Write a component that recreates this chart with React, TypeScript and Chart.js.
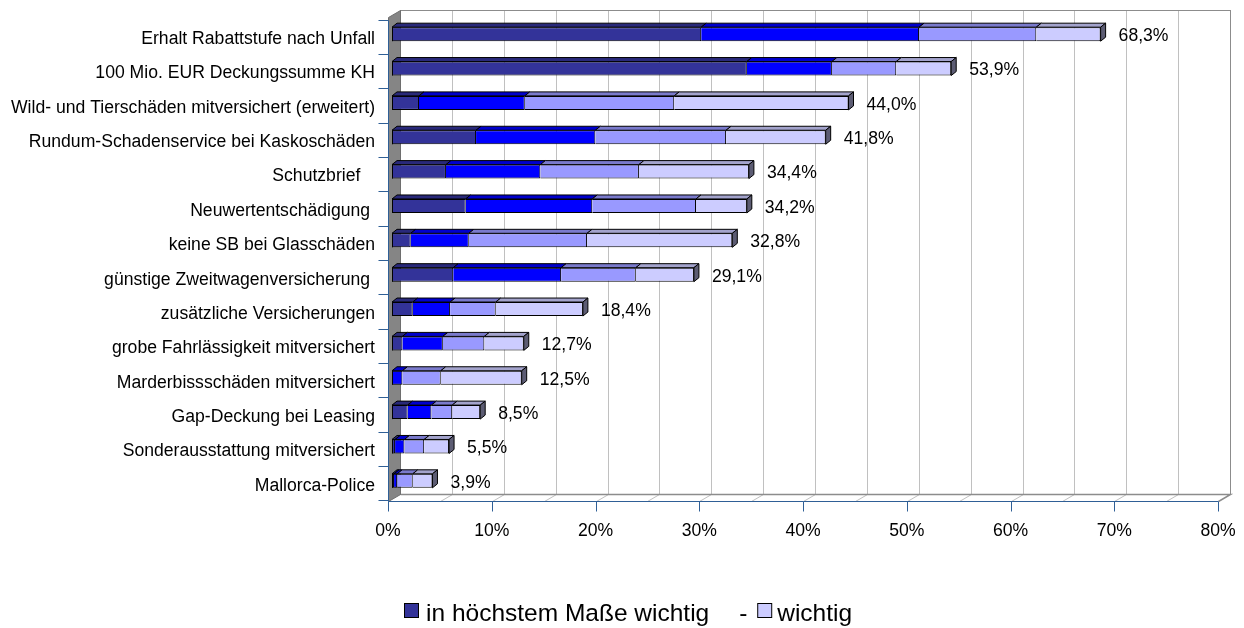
import React, { useEffect, useRef } from 'react';
import { Chart, registerables } from 'chart.js';

Chart.register(...registerables);

// ---- data ----
const categories = [
  'Erhalt Rabattstufe nach Unfall',
  '100 Mio. EUR Deckungssumme KH',
  'Wild- und Tierschäden mitversichert (erweitert)',
  'Rundum-Schadenservice bei Kaskoschäden',
  'Schutzbrief   ',
  'Neuwertentschädigung ',
  'keine SB bei Glasschäden',
  'günstige Zweitwagenversicherung ',
  'zusätzliche Versicherungen',
  'grobe Fahrlässigkeit mitversichert',
  'Marderbissschäden mitversichert',
  'Gap-Deckung bei Leasing',
  'Sonderausstattung mitversichert',
  'Mallorca-Police',
];

const seriesNames = ['in höchstem Maße wichtig', 'sehr wichtig', 'eher wichtig', 'wichtig'];

const highestImportance = [29.8, 34.2, 2.6, 8.1, 5.2, 7.1, 1.8, 5.9, 2.0, 1.0, 0, 1.5, 0.3, 0.2];
const veryImportant = [21.0, 8.2, 10.2, 11.5, 9.1, 12.2, 5.6, 10.4, 3.6, 3.9, 1.0, 2.3, 0.9, 0.3];
const ratherImportant = [11.3, 6.2, 14.4, 12.6, 9.5, 10.0, 11.4, 7.2, 4.4, 4.0, 3.7, 2.0, 1.9, 1.5];
const important = [6.2, 5.3, 16.8, 9.6, 10.6, 4.9, 14.0, 5.6, 8.4, 3.8, 7.8, 2.7, 2.4, 1.9];
const totals = [68.3, 53.9, 44.0, 41.8, 34.4, 34.2, 32.8, 29.1, 18.4, 12.7, 12.5, 8.5, 5.5, 3.9];

const xMax = 80;
const xTickStep = 10;
const xGridStep = 5;
const legendSeparator = '-';

const colors = ['#333399', '#0000FF', '#9999FF', '#CCCCFF'];

// ---- style ----
const FONT_FAMILY = '"Liberation Sans", Arial, sans-serif';
const LABEL_SIZE = 17.6;
const LEGEND_SIZE = 24.5;
const AXIS_BLUE = '#2F5F96';
const FRONT_DX = -4;
const FRONT_DY = 2.5;
const BACK_DX = 8;
const BACK_DY = -4.5;
const BAR_DX = 5;
const BAR_DY = 4;

function shade(hex: string, f: number) {
  const n = parseInt(hex.slice(1), 16);
  const r = Math.round(((n >> 16) & 255) * f);
  const g = Math.round(((n >> 8) & 255) * f);
  const b = Math.round((n & 255) * f);
  return `rgb(${r},${g},${b})`;
}

const frame3d = {
  id: 'frame3d',
  beforeDatasetsDraw(chart: any) {
    const { ctx, chartArea: ca, scales } = chart;
    const xs = scales.x;
    const X = (v: number) => xs.getPixelForValue(v);
    const fL = Math.round(X(0) + FRONT_DX) + 0.5;
    const fR = Math.round(X(xMax) + FRONT_DX) + 0.5;
    const bL = Math.round(X(0) + BACK_DX) + 0.5;
    const bR = Math.round(X(xMax) + BACK_DX) + 0.5;
    const fB = Math.round(ca.bottom + FRONT_DY) + 0.5;
    const bB = Math.round(ca.bottom + BACK_DY) + 0.5;
    const fT = Math.round(ca.top) + 0.5;
    const bT = Math.round(ca.top - 7) + 0.5;

    ctx.save();
    // back wall
    ctx.fillStyle = '#ffffff';
    ctx.fillRect(bL, bT, bR - bL, bB - bT);
    // floor
    ctx.beginPath();
    ctx.moveTo(fL, fB);
    ctx.lineTo(bL, bB);
    ctx.lineTo(bR, bB);
    ctx.lineTo(fR, fB);
    ctx.closePath();
    ctx.fill();

    // grid lines
    ctx.strokeStyle = '#C0C0C0';
    ctx.lineWidth = 1;
    for (let v = xGridStep; v < xMax; v += xGridStep) {
      const bx = Math.round(X(v) + BACK_DX) + 0.5;
      const fx = Math.round(X(v) + FRONT_DX) + 0.5;
      ctx.beginPath();
      ctx.moveTo(bx, bT);
      ctx.lineTo(bx, bB);
      ctx.lineTo(fx, fB);
      ctx.stroke();
    }

    // back wall border
    ctx.strokeStyle = '#8C8C8C';
    ctx.strokeRect(bL, bT, bR - bL, bB - bT);
    ctx.lineWidth = 1.5;
    ctx.beginPath();
    ctx.moveTo(bL, bB);
    ctx.lineTo(bR, bB);
    ctx.lineTo(fR, fB);
    ctx.stroke();
    ctx.lineWidth = 1;

    // left wall
    ctx.fillStyle = '#858585';
    ctx.beginPath();
    ctx.moveTo(fL, fT);
    ctx.lineTo(bL, bT);
    ctx.lineTo(bL, bB);
    ctx.lineTo(fL, fB);
    ctx.closePath();
    ctx.fill();
    ctx.strokeStyle = '#6E6E6E';
    ctx.stroke();

    // axes
    ctx.strokeStyle = AXIS_BLUE;
    ctx.lineWidth = 1;
    ctx.beginPath();
    ctx.moveTo(fL, fB);
    ctx.lineTo(fR, fB);
    for (let v = 0; v <= xMax; v += xTickStep) {
      const fx = Math.round(X(v) + FRONT_DX) + 0.5;
      ctx.moveTo(fx, fB);
      ctx.lineTo(fx, fB + 10);
    }
    const n = categories.length;
    const band = (ca.bottom - ca.top) / n;
    const axTop = Math.round(ca.top + FRONT_DY) + 0.5;
    ctx.moveTo(fL, axTop);
    ctx.lineTo(fL, fB);
    for (let k = 0; k <= n; k++) {
      const y = Math.round(ca.top + k * band + FRONT_DY) + 0.5;
      ctx.moveTo(fL - 10, y);
      ctx.lineTo(fL, y);
    }
    ctx.stroke();
    ctx.restore();
  },
  afterDatasetsDraw(chart: any) {
    const { ctx } = chart;
    const nSets = chart.data.datasets.length;
    ctx.save();
    ctx.lineWidth = 1;
    ctx.strokeStyle = '#000';
    ctx.lineJoin = 'miter';
    for (let j = 0; j < categories.length; j++) {
      let lastEl: any = null;
      let firstEl: any = null;
      for (let i = 0; i < nSets; i++) {
        const el = chart.getDatasetMeta(i).data[j];
        if (!el) continue;
        const p = el.getProps(['x', 'y', 'base', 'height'], true);
        if (!firstEl) firstEl = p;
        if (Math.abs(p.x - p.base) < 0.01) continue;
        const top = p.y - p.height / 2;
        ctx.fillStyle = shade(colors[i], 0.8);
        ctx.beginPath();
        ctx.moveTo(p.base, top);
        ctx.lineTo(p.x, top);
        ctx.lineTo(p.x + BAR_DX, top - BAR_DY);
        ctx.lineTo(p.base + BAR_DX, top - BAR_DY);
        ctx.closePath();
        ctx.fill();
        ctx.stroke();
        lastEl = { p, i };
      }
      if (lastEl) {
        const p = lastEl.p;
        const top = p.y - p.height / 2;
        const bot = p.y + p.height / 2;
        ctx.fillStyle = shade(colors[lastEl.i], 0.45);
        ctx.beginPath();
        ctx.moveTo(p.x, top);
        ctx.lineTo(p.x + BAR_DX, top - BAR_DY);
        ctx.lineTo(p.x + BAR_DX, bot - BAR_DY);
        ctx.lineTo(p.x, bot);
        ctx.closePath();
        ctx.fill();
        ctx.stroke();
        // data label
        ctx.fillStyle = '#000';
        ctx.font = `${LABEL_SIZE}px ${FONT_FAMILY}`;
        ctx.textAlign = 'left';
        ctx.textBaseline = 'middle';
        const txt = totals[j].toFixed(1).replace('.', ',') + '%';
        ctx.fillText(txt, p.x + 18, p.y + 2);
      }
      if (firstEl) {
        const top = firstEl.y - firstEl.height / 2;
        const bot = firstEl.y + firstEl.height / 2;
        ctx.beginPath();
        ctx.moveTo(firstEl.base + 0.5, top);
        ctx.lineTo(firstEl.base + 0.5, bot);
        ctx.stroke();
      }
    }
    ctx.restore();
  },
  afterDraw(chart: any) {
    const { ctx } = chart;
    ctx.save();
    ctx.font = `${LEGEND_SIZE}px ${FONT_FAMILY}`;
    ctx.textBaseline = 'alphabetic';
    ctx.textAlign = 'left';
    const baseY = 621;
    let x = 404;
    ctx.fillStyle = colors[0];
    ctx.fillRect(x + 0.5, 603.5, 14, 14);
    ctx.strokeStyle = '#000';
    ctx.lineWidth = 1;
    ctx.strokeRect(x + 0.5, 603.5, 14, 14);
    x += 22;
    ctx.fillStyle = '#000';
    ctx.fillText(seriesNames[0], x, baseY);
    x += ctx.measureText(seriesNames[0]).width;
    ctx.textAlign = 'center';
    ctx.fillText(legendSeparator, x + 34, baseY);
    ctx.textAlign = 'left';
    x += 48;
    ctx.fillStyle = colors[3];
    ctx.fillRect(x + 0.5, 603.5, 14, 14);
    ctx.strokeRect(x + 0.5, 603.5, 14, 14);
    x += 20;
    ctx.fillStyle = '#000';
    ctx.fillText(seriesNames[3], x, baseY);
    ctx.restore();
  },
};

export default function App() {
  const ref = useRef<HTMLCanvasElement>(null);

  useEffect(() => {
    const seriesValues = [highestImportance, veryImportant, ratherImportant, important];
    const chart = new Chart(ref.current as HTMLCanvasElement, {
      type: 'bar',
      data: {
        labels: categories,
        datasets: seriesValues.map((vals, i) => ({
          label: seriesNames[i],
          data: vals,
          backgroundColor: colors[i],
          borderColor: '#000000',
          borderWidth: 1,
          borderSkipped: i === 0 ? false : 'start',
          barThickness: 14,
          inflateAmount: 0,
        })) as any,
      },
      options: {
        indexAxis: 'y',
        responsive: false,
        animation: false,
        events: [],
        layout: { padding: { top: 17, right: 22, left: 0, bottom: 0 } },
        plugins: {
          legend: { display: false },
          tooltip: { enabled: false },
        },
        scales: {
          x: {
            stacked: true,
            min: 0,
            max: xMax,
            position: 'bottom',
            grid: { display: false, drawTicks: false },
            border: { display: false },
            ticks: {
              stepSize: xTickStep,
              autoSkip: false,
              maxRotation: 0,
              labelOffset: FRONT_DX,
              padding: 23,
              color: '#000',
              font: { family: FONT_FAMILY, size: LABEL_SIZE },
              callback: (v: any) => `${v}%`,
            },
            afterFit: (s: any) => {
              s.height = 130;
              s.paddingLeft = 0;
              s.paddingRight = 0;
              s.paddingTop = 0;
              s.paddingBottom = 0;
            },
          },
          y: {
            stacked: true,
            grid: { display: false, drawTicks: false },
            border: { display: false },
            ticks: {
              autoSkip: false,
              labelOffset: 5,
              padding: 17,
              color: '#000',
              font: { family: FONT_FAMILY, size: LABEL_SIZE },
            },
            afterFit: (s: any) => {
              s.width = 392;
              s.paddingLeft = 0;
              s.paddingRight = 0;
              s.paddingTop = 0;
              s.paddingBottom = 0;
            },
          },
        },
      } as any,
      plugins: [frame3d],
    });
    return () => chart.destroy();
  }, []);

  return (
    <div style={{ position: 'fixed', left: 0, top: 0, width: 1244, height: 628, background: '#ffffff' }}>
      <canvas ref={ref} width={1244} height={628} style={{ display: 'block', width: 1244, height: 628 }} />
    </div>
  );
}
